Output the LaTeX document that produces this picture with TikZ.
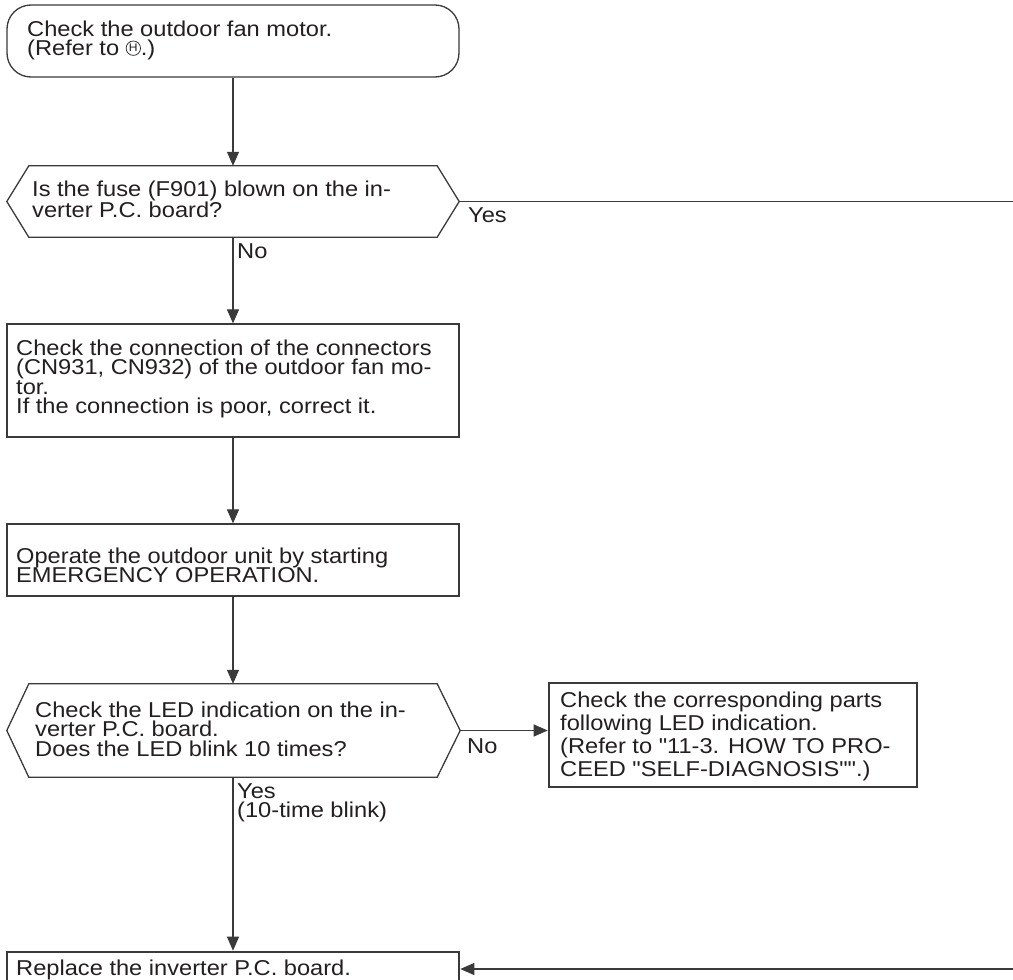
\documentclass[tikz,border=0pt]{standalone}
\usepackage{fontspec}
\setmainfont{Liberation Sans}[FakeStretch=1.1,Ligatures=TeXOff]
\usetikzlibrary{arrows.meta}
\definecolor{ink}{HTML}{231F20}
\definecolor{edge}{HTML}{3A3A3A}
\newcommand{\circH}{\tikz[baseline=-7.3pt]{\draw[line width=0.7pt,ink] (0,0) circle (7.2pt); \node[anchor=center,inner sep=0pt,text=ink,font=\fontsize{11}{11}\selectfont] at (0,0) {H};}}
\tikzset{
  txt/.style={anchor=base west,inner sep=0pt,text=ink,font=\fontsize{21.5}{19.5}\selectfont},
  box/.style={draw=edge,line width=1.3pt,rectangle,inner sep=0pt,minimum width=452pt},
  thickbox/.style={draw=edge,line width=2.6pt,rectangle,inner sep=0pt},
  body/.style={draw=none,rectangle,inner sep=0pt,minimum width=408pt},
  hexline/.style={draw=edge,line width=1.3pt,line join=miter},
  flow/.style={draw=edge,line width=1.1pt,-{Triangle[length=14pt,width=12pt]}},
  plain/.style={draw=edge,line width=1.1pt}
}
\newcommand{\lines}[2]{\parbox[t]{#1}{\raggedright #2}}
\begin{document}
\begin{tikzpicture}[x=1pt,y=-1pt]
\clip (0,0) rectangle (1013,980);
\fill[white] (0,0) rectangle (1013,980);
% start
\node[box,rounded corners=24pt,minimum height=72pt] (s) at (233,41) {};
\node[txt] (ts) at (27,36) {\lines{440pt}{Check the outdoor fan motor.\\(Refer to \circH.)}};
% decision 1
\node[body,minimum height=71pt] (d1) at (233,201.5) {};
\draw[hexline] (d1.north west) -- (d1.north east) -- ([xshift=22pt]d1.east) -- (d1.south east) -- (d1.south west) -- ([xshift=-22pt]d1.west) -- cycle;
\coordinate (d1r) at ([xshift=22pt]d1.east);
\node[txt] (td1) at (32,196) {\lines{420pt}{Is the fuse (F901) blown on the in-\\verter P.C. board?}};
\node[txt] (yes1) at (468,222) {Yes};
\node[txt] (no1) at (237,258) {No};
% box 2
\node[box,minimum height=113pt] (b2) at (233,380.5) {};
\node[txt] (tb2) at (16,355) {\lines{440pt}{Check the connection of the connectors\\(CN931, CN932) of the outdoor fan mo-\\tor.\\If the connection is poor, correct it.}};
% box 3
\node[box,minimum height=72pt] (b3) at (233,560) {};
\node[txt] (tb3) at (16,563) {\lines{440pt}{Operate the outdoor unit by starting\\EMERGENCY OPERATION.}};
% decision 2
\node[body,minimum height=93pt] (d2) at (233,730.5) {};
\draw[hexline] (d2.north west) -- (d2.north east) -- ([xshift=23pt]d2.east) -- (d2.south east) -- (d2.south west) -- ([xshift=-22pt]d2.west) -- cycle;
\coordinate (d2r) at ([xshift=23pt]d2.east);
\node[txt] (td2) at (35,717) {\lines{420pt}{Check the LED indication on the in-\\verter P.C. board.\\Does the LED blink 10 times?}};
\node[txt] (no2) at (467,753) {No};
\node[txt] (yes2) at (237,798) {\lines{200pt}{Yes\\(10-time blink)}};
% box 4
\node[thickbox,minimum width=368pt,minimum height=104pt] (b4) at (733,735) {};
\node[txt,font=\fontsize{21.5}{23}\selectfont] (tb4) at (560,707) {\lines{360pt}{Check the corresponding parts\\following LED indication.\\(Refer to "11-3. HOW TO PRO-\\CEED "SELF-DIAGNOSIS"".)}};
% box 5
\node[thickbox,minimum width=452pt,minimum height=46pt] (b5) at (233,975) {};
\node[txt] (tb5) at (16,975) {Replace the inverter P.C. board.};
% edges
\coordinate (e1) at (1013,201.5);
\coordinate (e2) at (1013,969);
\draw[flow] (s.south) -- (d1.north);
\draw[flow] (d1.south) -- (b2.north);
\draw[flow] (b2.south) -- (b3.north);
\draw[flow] (b3.south) -- (d2.north);
\draw[flow] (d2r) -- (d2r -| b4.west);
\draw[flow] (d2.south) -- (b5.north);
\draw[plain] (d1r) -- (e1);
\draw[flow] (e2) -- (e2 -| b5.east);
\end{tikzpicture}
\end{document}
